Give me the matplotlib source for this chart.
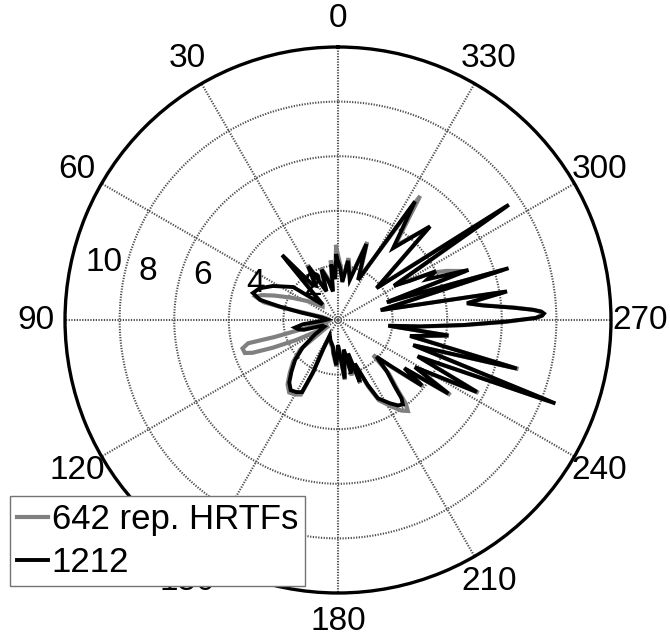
import numpy as np
import matplotlib
matplotlib.use("Agg")
import matplotlib.pyplot as plt

plt.rcParams['font.family'] = ['Liberation Sans', 'DejaVu Sans']

# angle in degrees (0 at top, counter-clockwise), radius
theta_1212 = [1.5, 4, 7, 10, 14, 18, 22, 26, 29, 33, 36, 40.7, 45, 53.7, 62.4, 68, 72.4, 75.5,
              77, 78.5, 81, 87, 93, 97, 100, 103, 106, 110, 116, 122, 128, 133, 138, 142, 146,
              150, 153.5, 154.5, 153, 152, 160, 169.4, 172, 177.9, 180, 186.5, 191, 194, 196.7,
              199.4, 201, 204.5, 207, 212, 215, 217.5, 219, 220.5, 223.5, 226.3, 229, 232, 234,
              236.3, 238.5, 242.6, 245.5, 249, 251.5, 254.8, 257.5, 262, 263.5, 265.5, 267.7,
              269.4, 270.6, 271.2, 271.8, 272.4, 273, 274, 275.8, 277.4, 279.6, 283, 286.9, 290,
              291, 294.5, 296.5, 298.6, 301.5, 304, 309.6, 315.5, 322.5, 327, 333.4, 339.5, 343.7,
              350.4, 353.5, 357.5]
r_1212 = [2.35, 1.5, 2.05, 1.06, 1.5, 1.94, 1.13, 1.6, 2.25, 1.5, 1.6, 3.14, 0.8, 2.04, 2.69,
          3.1, 3.27, 2.95, 2.2, 1.4, 0.6, 0.4, 0.6, 1.3, 1.6, 1.5, 1.3, 0.6, 0.55, 1.0, 1.65, 2.15,
          2.55, 2.9, 3.1, 3.05, 2.95, 2.1, 1.2, 0.65, 0.8, 1.0, 1.2, 1.66, 0.92, 2.16, 1.1, 2.02,
          1.28, 2.4, 1.71, 2.6, 3.22, 3.6, 3.82, 3.9, 3.7, 3.2, 2.6, 1.95, 2.6, 3.9, 3.0, 4.86,
          3.3, 5.73, 3.2, 8.53, 2.9, 6.79, 2.7, 4.08, 1.85, 3.0, 4.6, 6.1, 7.25, 7.48, 7.55,
          7.45, 7.15, 6.45, 5.3, 4.76, 6.28, 1.6, 6.53, 1.9, 5.12, 3.6, 4.0, 3.0, 2.4, 7.55, 1.83,
          4.81, 3.32, 5.18, 1.64, 2.97, 1.53, 2.2, 1.4, 1.9]

theta_642 = [1.5, 4, 7, 10, 14, 18, 22, 26, 29, 33, 36, 40.7, 45, 49, 58, 64, 69, 72, 74.3,
             76.5, 77.5, 78, 79, 85, 92, 100, 104, 105, 104.5, 106.6, 109.5, 111, 113, 115.6,
             118, 121, 128, 133, 138, 142, 146, 150, 153.5, 154.5, 153, 152, 160, 169.4, 172,
             177.9, 180, 186.5, 191, 194, 196.7, 199.4, 201, 204.5, 207, 212, 215, 217.5, 219,
             220.5, 223.5, 225, 229, 232, 234, 236.3, 238.5, 242.6, 245.5, 249, 251.5, 254.8,
             257.5, 262, 263.5, 265.5, 267.7, 269.4, 270.6, 271.2, 271.8, 272.4, 273, 274, 275.8,
             277.4, 279.6, 283, 286.9, 290, 291, 294.3, 296.5, 298.6, 301.5, 304, 309.6, 315.5,
             322.5, 326.5, 333.4, 339.5, 343.7, 350.4, 353.5, 357.5]
r_642 = [2.68, 1.6, 2.2, 1.15, 1.6, 2.0, 1.2, 1.7, 2.3, 1.55, 1.6, 2.95, 0.8, 0.75, 1.3, 1.85,
         2.5, 2.95, 3.12, 2.8, 2.0, 1.2, 0.6, 0.35, 0.3, 0.4, 1.2, 2.4, 3.4, 3.65, 3.62, 3.35,
         2.6, 1.7, 0.9, 0.4, 1.75, 2.25, 2.65, 3.0, 3.2, 3.15, 3.05, 2.2, 1.2, 0.65, 0.85, 1.05,
         1.25, 1.7, 0.95, 2.2, 1.15, 2.1, 1.3, 2.45, 1.75, 2.7, 3.3, 3.75, 4.05, 4.2, 3.95, 3.35,
         2.7, 1.82, 2.7, 3.95, 3.1, 4.95, 3.35, 5.8, 3.25, 8.3, 2.95, 6.85, 2.75, 4.1, 1.9, 3.05,
         4.65, 6.15, 7.25, 7.4, 7.45, 7.4, 7.15, 6.5, 5.35, 4.8, 6.2, 1.65, 6.3, 1.95, 5.0, 4.37,
         3.9, 3.1, 2.45, 7.45, 1.9, 4.75, 3.4, 5.45, 1.7, 3.05, 1.6, 2.3, 1.45, 2.0]

angle_ticks = list(range(0, 360, 30))
ring_ticks = [2, 4, 6, 8]
ring_labels = ['10', '8', '6', '4', '2']
ring_label_pos = [(76.2, 8.83), (75.6, 7.2), (71.8, 5.22), (66.0, 3.29), (37.3, 1.54)]

fig = plt.figure(figsize=(6.7, 6.44), dpi=100)
ax = fig.add_axes([0.5045 - 0.4075, 0.5031 - 0.4239, 0.815, 0.8478], projection='polar')
ax.set_theta_zero_location('N')
ax.set_theta_direction(1)
ax.set_rlim(0, 10)

ax.set_thetagrids(angle_ticks, labels=[''] * len(angle_ticks))
ax.set_rgrids(ring_ticks, labels=[''] * len(ring_ticks))
ax.grid(True, color='0.3', linestyle=(0, (0.6, 0.7)), linewidth=1.5)
ax.spines['polar'].set_linewidth(2.4)

# close the curves
tg = np.deg2rad(theta_642 + theta_642[:1])
rg = r_642 + r_642[:1]
tk = np.deg2rad(theta_1212 + theta_1212[:1])
rk = r_1212 + r_1212[:1]
l1, = ax.plot(tg, rg, color='#808080', lw=3.0, label='642 rep. HRTFs', solid_joinstyle='miter')
l2, = ax.plot(tk, rk, color='black', lw=2.8, label='1212', solid_joinstyle='miter')

for a in angle_ticks:
    ax.text(np.deg2rad(a), 11.05, str(a), fontsize=24, ha='center', va='center', clip_on=False)

for lab, (a, r) in zip(ring_labels, ring_label_pos):
    ax.text(np.deg2rad(a), r, lab, fontsize=24, ha='center', va='center')

leg = ax.legend(handles=[l1, l2], loc='upper left', bbox_to_anchor=(10 / 670, 1 - 496 / 644),
                bbox_transform=fig.transFigure, borderaxespad=0, fontsize=25,
                handlelength=0.9, handletextpad=0.1, borderpad=0.2, labelspacing=0.3,
                fancybox=False, framealpha=1, edgecolor='0.45')
leg.get_frame().set_linewidth(1.0)
leg.set_zorder(10)

fig.savefig('out.png', dpi=100)
